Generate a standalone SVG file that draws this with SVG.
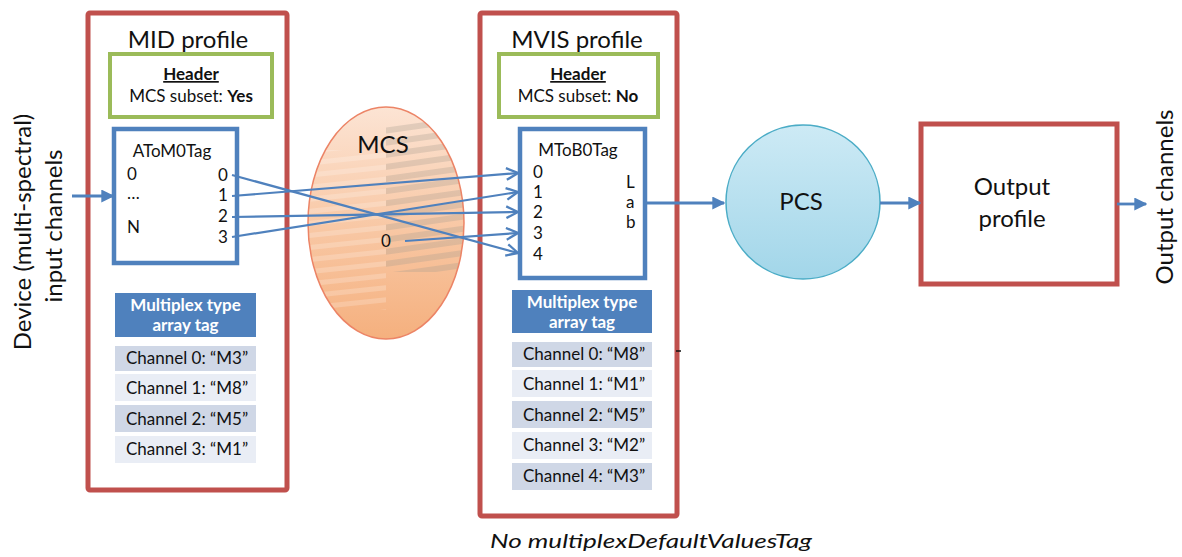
<svg xmlns="http://www.w3.org/2000/svg" width="1182" height="557" viewBox="0 0 1182 557">
<style>
text{font-family:Lato,"Liberation Sans",sans-serif;fill:#111}
.red{fill:#fff;stroke:#c0504d;stroke-width:5}
.green{fill:#fff;stroke:#9bbb59;stroke-width:4}
.blue{fill:#fff;stroke:#4f81bd;stroke-width:4.5}
.t22{font-size:24px}
.t16{font-size:17px}
.t15{font-size:17px}
.b{font-weight:bold}
.hdr{fill:#4f81bd}
.hdrt{fill:#fff;font-size:17px;font-weight:bold}
.rd{fill:#cfd7e6}
.rl{fill:#e9edf5}
.conn{stroke:#4f81bd;stroke-width:2.8;fill:none}
.thin{stroke:#4f81bd;stroke-width:2.2;fill:none}
</style>
<defs>
<marker id="tri" viewBox="0 0 10 10" refX="9" refY="5" markerWidth="13" markerHeight="13" markerUnits="userSpaceOnUse" orient="auto">
<path d="M0,0 L10,5 L0,10 z" fill="#4f81bd"/>
</marker>
<marker id="chev" viewBox="0 0 12 12" refX="11" refY="6" markerWidth="14" markerHeight="14" markerUnits="userSpaceOnUse" orient="auto">
<path d="M1,1 L11,6 L1,11" fill="none" stroke="#4f81bd" stroke-width="2"/>
</marker>
<linearGradient id="og" x1="0" y1="0" x2="0" y2="1">
<stop offset="0" stop-color="#fce4d4"/>
<stop offset="0.55" stop-color="#f8c6a2"/>
<stop offset="1" stop-color="#f5b07e"/>
</linearGradient>
<linearGradient id="bg" x1="0" y1="0" x2="0" y2="1">
<stop offset="0" stop-color="#cdeaf5"/>
<stop offset="1" stop-color="#a2d6e9"/>
</linearGradient>
<pattern id="stripes" width="20" height="12" patternUnits="userSpaceOnUse" patternTransform="rotate(-8)">
<rect width="20" height="6" fill="#a89c90" fill-opacity="0.3"/>
</pattern>
<pattern id="wstripes" width="20" height="12" patternUnits="userSpaceOnUse" patternTransform="rotate(-6)">
<rect width="20" height="5" fill="#fff" fill-opacity="0.2"/>
</pattern>
<clipPath id="ellclip"><ellipse cx="386" cy="223" rx="78" ry="116"/></clipPath>
</defs>
<rect width="1182" height="557" fill="#fff"/>

<g id="input-label">
<text class="t22" transform="translate(31,232) rotate(-90)" text-anchor="middle">Device (multi-spectral)</text>
<text class="t22" transform="translate(62,226) rotate(-90)" text-anchor="middle">input channels</text>
</g>

<g id="mid-profile">
<rect class="red" x="88" y="13" width="199" height="477" rx="2"/>
<text class="t22" x="188" y="48" text-anchor="middle">MID profile</text>
<g id="mid-header">
<rect class="green" x="110" y="54" width="162" height="63"/>
<text class="t16 b" x="191" y="80" text-anchor="middle" text-decoration="underline">Header</text>
<text class="t16" x="191" y="102" text-anchor="middle">MCS subset: <tspan class="b">Yes</tspan></text>
</g>
<g id="atom0tag">
<rect class="blue" x="114" y="129" width="123" height="134"/>
<text class="t16" x="172" y="157" text-anchor="middle">AToM0Tag</text>
<text class="t16" x="127" y="180">0</text>
<text class="t16" x="127" y="199">…</text>
<text class="t16" x="127" y="233">N</text>
<text class="t16" x="218" y="181">0</text>
<text class="t16" x="218" y="201">1</text>
<text class="t16" x="218" y="222">2</text>
<text class="t16" x="218" y="243">3</text>
</g>
<g id="mid-multiplex">
<rect class="hdr" x="115" y="293" width="141" height="44"/>
<text class="hdrt" x="185.5" y="311" text-anchor="middle">Multiplex type</text>
<text class="hdrt" x="185.5" y="331" text-anchor="middle">array tag</text>
<rect class="rd" x="115" y="346" width="141" height="25"/>
<rect class="rl" x="115" y="374" width="141" height="27"/>
<rect class="rd" x="115" y="405" width="141" height="27"/>
<rect class="rl" x="115" y="436" width="141" height="27"/>
<text class="t15" x="126" y="364">Channel 0: “M3”</text>
<text class="t15" x="126" y="394">Channel 1: “M8”</text>
<text class="t15" x="126" y="425">Channel 2: “M5”</text>
<text class="t15" x="126" y="455">Channel 3: “M1”</text>
</g>
</g>

<g id="mcs">
<ellipse cx="386" cy="223" rx="78" ry="116" fill="url(#og)"/>
<rect x="308" y="150" width="78" height="160" fill="url(#wstripes)" clip-path="url(#ellclip)"/>
<rect x="386" y="122" width="80" height="150" fill="url(#stripes)" clip-path="url(#ellclip)"/>
<ellipse cx="386" cy="223" rx="78" ry="116" fill="none" stroke="#ec8466" stroke-width="1.5"/>
<text class="t22" x="383" y="153" text-anchor="middle">MCS</text>
<text class="t16" x="386" y="247" text-anchor="middle">0</text>
</g>

<g id="mvis-profile">
<rect class="red" x="480" y="13" width="197" height="503" rx="2"/>
<text class="t22" x="577" y="48" text-anchor="middle">MVIS profile</text>
<g id="mvis-header">
<rect class="green" x="499" y="54" width="159" height="63"/>
<text class="t16 b" x="578" y="80" text-anchor="middle" text-decoration="underline">Header</text>
<text class="t16" x="578" y="102" text-anchor="middle">MCS subset: <tspan class="b">No</tspan></text>
</g>
<g id="mtob0tag">
<rect class="blue" x="520" y="129" width="125" height="149"/>
<text class="t16" x="578" y="156" text-anchor="middle">MToB0Tag</text>
<text class="t16" x="533" y="178">0</text>
<text class="t16" x="533" y="198">1</text>
<text class="t16" x="533" y="218">2</text>
<text class="t16" x="533" y="239">3</text>
<text class="t16" x="533" y="260">4</text>
<text class="t16" x="626" y="188">L</text>
<text class="t16" x="626" y="208">a</text>
<text class="t16" x="626" y="228">b</text>
</g>
<g id="mvis-multiplex">
<rect class="hdr" x="512" y="290" width="140" height="43"/>
<text class="hdrt" x="582" y="308" text-anchor="middle">Multiplex type</text>
<text class="hdrt" x="582" y="328" text-anchor="middle">array tag</text>
<rect class="rd" x="512" y="342" width="140" height="25"/>
<rect class="rl" x="512" y="370" width="140" height="27"/>
<rect class="rd" x="512" y="401" width="140" height="27"/>
<rect class="rl" x="512" y="432" width="140" height="27"/>
<rect class="rd" x="512" y="463" width="140" height="27"/>
<text class="t15" x="523" y="360">Channel 0: “M8”</text>
<text class="t15" x="523" y="390">Channel 1: “M1”</text>
<text class="t15" x="523" y="421">Channel 2: “M5”</text>
<text class="t15" x="523" y="451">Channel 3: “M2”</text>
<text class="t15" x="523" y="482">Channel 4: “M3”</text>
</g>
<line x1="676" y1="351" x2="681" y2="351" stroke="#111" stroke-width="1.5"/>
</g>

<g id="pcs">
<circle cx="803" cy="202" r="77" fill="url(#bg)" stroke="#4bacc6" stroke-width="1.5"/>
<text class="t22" x="801" y="210" text-anchor="middle">PCS</text>
</g>

<g id="output-profile">
<rect class="red" x="921" y="124" width="196" height="160"/>
<text class="t22" x="1012" y="195" text-anchor="middle">Output</text>
<text class="t22" x="1012" y="227" text-anchor="middle">profile</text>
</g>

<g id="output-label">
<text class="t22" transform="translate(1173,197) rotate(-90)" text-anchor="middle">Output channels</text>
</g>

<g id="connectors">
<line class="conn" x1="72" y1="196" x2="113" y2="196" marker-end="url(#tri)"/>
<line class="thin" x1="232" y1="175" x2="518" y2="253" marker-end="url(#chev)"/>
<line class="thin" x1="232" y1="196" x2="518" y2="173" marker-end="url(#chev)"/>
<line class="thin" x1="232" y1="217" x2="518" y2="212" marker-end="url(#chev)"/>
<line class="thin" x1="232" y1="237" x2="518" y2="192" marker-end="url(#chev)"/>
<line class="thin" x1="405" y1="241" x2="518" y2="233" marker-end="url(#chev)"/>
<line class="conn" x1="645" y1="203" x2="724" y2="203" marker-end="url(#tri)"/>
<line class="conn" x1="880" y1="203" x2="920" y2="203" marker-end="url(#tri)"/>
<line class="conn" x1="1117" y1="204" x2="1146" y2="204" marker-end="url(#tri)"/>
</g>

<text x="651" y="548" text-anchor="middle" font-size="20" font-style="italic" textLength="322" lengthAdjust="spacingAndGlyphs">No multiplexDefaultValuesTag</text>
</svg>
